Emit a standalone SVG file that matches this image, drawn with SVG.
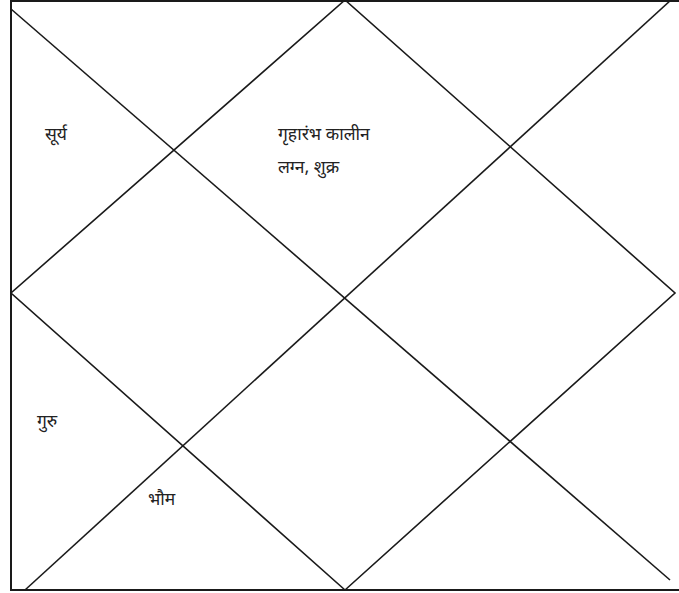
<svg xmlns="http://www.w3.org/2000/svg" width="679" height="593" viewBox="0 0 679 593">
<style>
.ln{stroke:#1a1a1a;stroke-width:1.6;fill:none}
.fr{stroke:#1a1a1a;stroke-width:2;fill:none}
.t{font-family:"Noto Sans Devanagari","Noto Serif Devanagari","Noto Sans",sans-serif;font-size:17.5px;fill:#222}
</style>
<rect width="679" height="593" fill="#fff"/>
<g id="connectors">
<path class="fr" d="M11,0 V591 M11,1 H679 M11,590 H679"/>
<path class="ln" d="M11,9 L670,580"/>
<path class="ln" d="M671,0 L25,590"/>
<path class="ln" d="M345,0 L11,293 L345,590 M345,0 L675,293 L345,590"/>
</g>
<g id="house1"><text class="t" x="278" y="140">गृहारंभ कालीन</text><text class="t" x="278" y="173">लग्न, शुक्र</text></g>
<g id="house2"><text class="t" x="45" y="140">सूर्य</text></g>
<g id="house4"><text class="t" x="37" y="427">गुरु</text></g>
<g id="house5"><text class="t" x="148" y="505">भौम</text></g>
</svg>
